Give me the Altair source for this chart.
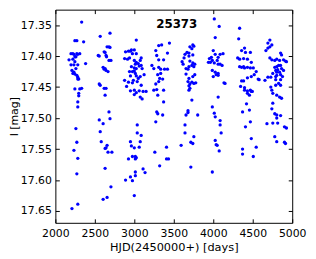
import altair as alt
import pandas as pd

# (HJD-2450000, I mag), grouped by observing season
season1 = [(2333, 17.345), (2247, 17.375), (2272, 17.375), (2358, 17.377), (2383, 17.412),
           (2173, 17.406), (2198, 17.396), (2222, 17.396), (2235, 17.397), (2272, 17.396),
           (2284, 17.397), (2309, 17.396), (2247, 17.401), (2260, 17.401), (2247, 17.409),
           (2198, 17.414), (2235, 17.414), (2284, 17.414), (2210, 17.423), (2222, 17.428),
           (2247, 17.429), (2272, 17.431), (2284, 17.434), (2284, 17.437), (2235, 17.426),
           (2296, 17.437), (2333, 17.452), (2309, 17.453), (2247, 17.453), (2296, 17.460),
           (2296, 17.464), (2284, 17.474), (2284, 17.482), (2260, 17.517), (2272, 17.539),
           (2235, 17.552), (2284, 17.565), (2272, 17.590), (2284, 17.639), (2210, 17.646),
           (2260, 17.420), (2222, 17.405)]
season2 = [(2568, 17.368), (2692, 17.363), (2655, 17.385), (2679, 17.385), (2692, 17.386),
           (2618, 17.393), (2630, 17.394), (2543, 17.399), (2556, 17.400), (2642, 17.399),
           (2648, 17.401), (2679, 17.407), (2704, 17.407), (2605, 17.418), (2630, 17.420),
           (2642, 17.423), (2618, 17.421), (2667, 17.425), (2556, 17.445), (2568, 17.447),
           (2618, 17.452), (2642, 17.452), (2630, 17.463), (2679, 17.490), (2556, 17.503),
           (2692, 17.501), (2605, 17.509), (2568, 17.522), (2581, 17.538), (2655, 17.544),
           (2642, 17.548), (2630, 17.549), (2667, 17.555), (2716, 17.555), (2630, 17.581),
           (2704, 17.611), (2655, 17.628), (2605, 17.631)]
season3 = [(3025, 17.374), (2963, 17.390), (3000, 17.390), (2951, 17.392), (2926, 17.392),
           (2889, 17.393), (2877, 17.404), (2914, 17.405), (2939, 17.403), (2976, 17.396),
           (3025, 17.396), (3000, 17.407), (3025, 17.410), (3050, 17.412), (3013, 17.413),
           (3075, 17.407), (3087, 17.403), (2963, 17.417), (3000, 17.419), (3025, 17.420),
           (3062, 17.416), (3087, 17.415), (2939, 17.425), (2976, 17.425), (3000, 17.424),
           (3099, 17.420), (2951, 17.432), (3025, 17.432), (3075, 17.433), (3124, 17.430),
           (2877, 17.439), (2988, 17.439), (2926, 17.442), (2976, 17.443), (3037, 17.441),
           (3087, 17.447), (2902, 17.449), (2951, 17.456), (3000, 17.455), (3062, 17.456),
           (3111, 17.457), (3149, 17.457), (3025, 17.459), (3000, 17.462), (3075, 17.466),
           (3099, 17.469), (3037, 17.511), (3037, 17.524), (3087, 17.528), (2951, 17.538),
           (2963, 17.545), (3000, 17.548), (3075, 17.538), (3062, 17.547), (2976, 17.562),
           (3013, 17.562), (3025, 17.564), (3013, 17.566), (2926, 17.566), (3111, 17.582),
           (3136, 17.588), (3013, 17.587), (3013, 17.593), (2951, 17.595), (2976, 17.601),
           (2889, 17.600), (3000, 17.625), (3013, 17.428), (3050, 17.436)]
season4 = [(3445, 17.379), (3346, 17.382), (3309, 17.383), (3272, 17.391), (3420, 17.395),
           (3284, 17.399), (3309, 17.406), (3371, 17.406), (3223, 17.415), (3247, 17.420),
           (3309, 17.418), (3334, 17.421), (3383, 17.421), (3420, 17.421), (3321, 17.436),
           (3359, 17.437), (3272, 17.445), (3309, 17.441), (3247, 17.455), (3284, 17.454),
           (3371, 17.455), (3297, 17.463), (3371, 17.474), (3284, 17.490), (3297, 17.493),
           (3359, 17.495), (3272, 17.506), (3260, 17.555), (3321, 17.577), (3408, 17.566),
           (3433, 17.566), (3408, 17.547), (3334, 17.428), (3296, 17.430)]
season5 = [(3605, 17.409), (3630, 17.403), (3642, 17.397), (3667, 17.394), (3692, 17.400),
           (3704, 17.408), (3741, 17.411), (3766, 17.413), (3618, 17.413), (3704, 17.385),
           (3741, 17.382), (3729, 17.388), (3754, 17.384), (3692, 17.395), (3741, 17.398),
           (3655, 17.420), (3680, 17.421), (3692, 17.417), (3729, 17.415), (3754, 17.417),
           (3655, 17.429), (3692, 17.436), (3741, 17.433), (3766, 17.430), (3680, 17.441),
           (3704, 17.445), (3729, 17.442), (3754, 17.444), (3778, 17.443), (3692, 17.448),
           (3704, 17.452), (3692, 17.455), (3729, 17.471), (3680, 17.488), (3680, 17.491),
           (3655, 17.495), (3803, 17.495), (3642, 17.511), (3593, 17.544), (3642, 17.524),
           (3716, 17.539), (3741, 17.541), (3754, 17.530), (3716, 17.579)]
season6 = [(4013, 17.340), (4075, 17.352), (4025, 17.370), (4000, 17.391), (4025, 17.397),
           (3976, 17.402), (3951, 17.404), (3988, 17.407), (4062, 17.402), (4087, 17.397),
           (4124, 17.396), (3939, 17.410), (4050, 17.407), (3964, 17.410), (4013, 17.411),
           (4062, 17.413), (4087, 17.413), (4112, 17.415), (3988, 17.423), (4025, 17.426),
           (4062, 17.428), (4037, 17.430), (4000, 17.433), (4062, 17.431), (4136, 17.443),
           (4149, 17.444), (4062, 17.466), (3988, 17.482), (4013, 17.492), (4025, 17.498),
           (4087, 17.504), (4025, 17.536), (4050, 17.544), (4037, 17.543), (4075, 17.553),
           (4100, 17.524), (4087, 17.511), (3988, 17.587)]
season7 = [(4334, 17.355), (4322, 17.372), (4396, 17.387), (4359, 17.391), (4408, 17.394),
           (4470, 17.394), (4309, 17.403), (4334, 17.405), (4384, 17.404), (4433, 17.405),
           (4334, 17.417), (4359, 17.418), (4384, 17.417), (4396, 17.419), (4433, 17.418),
           (4470, 17.419), (4482, 17.410), (4507, 17.419), (4544, 17.425), (4569, 17.437),
           (4581, 17.438), (4359, 17.440), (4384, 17.440), (4433, 17.435), (4482, 17.433),
           (4519, 17.430), (4396, 17.455), (4433, 17.456), (4470, 17.455), (4495, 17.457),
           (4433, 17.460), (4458, 17.463), (4482, 17.457), (4346, 17.449), (4396, 17.451),
           (4421, 17.477), (4458, 17.487), (4371, 17.490), (4470, 17.506), (4408, 17.514),
           (4482, 17.533), (4544, 17.547), (4371, 17.550), (4371, 17.558), (4507, 17.562)]
season8 = [(4717, 17.374), (4692, 17.379), (4667, 17.391), (4692, 17.387), (4717, 17.385),
           (4742, 17.382), (4853, 17.395), (4865, 17.398), (4890, 17.406), (4915, 17.408),
           (4927, 17.409), (4840, 17.407), (4717, 17.403), (4742, 17.406), (4779, 17.407),
           (4804, 17.405), (4655, 17.439), (4692, 17.434), (4729, 17.434), (4754, 17.428),
           (4791, 17.423), (4816, 17.422), (4853, 17.415), (4828, 17.415), (4804, 17.417),
           (4840, 17.426), (4865, 17.420), (4890, 17.423), (4804, 17.431), (4791, 17.438),
           (4853, 17.438), (4877, 17.433), (4828, 17.444), (4853, 17.447), (4742, 17.455),
           (4754, 17.460), (4804, 17.463), (4840, 17.466), (4865, 17.468), (4729, 17.450),
           (4791, 17.447), (4779, 17.418), (4804, 17.426), (4853, 17.430), (4791, 17.433),
           (4754, 17.476), (4742, 17.485), (4779, 17.493), (4804, 17.495), (4804, 17.500),
           (4853, 17.496), (4680, 17.509), (4754, 17.508), (4816, 17.508), (4902, 17.514),
           (4927, 17.516), (4779, 17.530), (4804, 17.538), (4902, 17.539), (4915, 17.541)]

x_ticks = [2000, 2500, 3000, 3500, 4000, 4500, 5000]
y_ticks = [17.35, 17.40, 17.45, 17.50, 17.55, 17.60, 17.65]
x_domain = [2000, 5000]
y_domain = [17.325, 17.669]
star_id = "25373"

rows = season1 + season2 + season3 + season4 + season5 + season6 + season7 + season8
df = pd.DataFrame(rows, columns=["hjd", "imag"])

FONT = "DejaVu Sans"
W, H = 240, 216

xs = alt.Scale(domain=x_domain, nice=False, zero=False)
ys = alt.Scale(domain=y_domain, reverse=True, nice=False, zero=False)

base = alt.Chart(df)

points = base.mark_circle(color="#0000ff", size=11, opacity=1).encode(
    x=alt.X("hjd:Q", scale=xs, axis=alt.Axis(
        values=x_ticks, format="d", title="HJD(2450000+) [days]", grid=False,
        ticks=False, domain=False, labelPadding=5, labelFontSize=11,
        labelFont=FONT, labelColor="black", labelFlush=False,
        titleFont=FONT, titleFontSize=11.5, titleFontWeight="normal",
        titleColor="black", titlePadding=3)),
    y=alt.Y("imag:Q", scale=ys, axis=alt.Axis(
        values=y_ticks, format=".2f", title="I [mag]", grid=False,
        ticks=False, domain=False, labelPadding=4, labelFontSize=11,
        labelFont=FONT, labelColor="black", labelFlush=False,
        titleFont=FONT, titleFontSize=11, titleFontWeight="normal",
        titleColor="black", titlePadding=1)),
)


def tick_axis(orient, offset, values):
    return alt.Axis(orient=orient, offset=offset, values=values, labels=False,
                    title=None, grid=False, domain=False, ticks=True,
                    tickSize=4, tickColor="black", tickWidth=1)


ticks_a = base.mark_circle(opacity=0).encode(
    x=alt.X("hjd:Q", scale=xs, axis=tick_axis("top", -H, x_ticks)),
    y=alt.Y("imag:Q", scale=ys, axis=tick_axis("right", -W, y_ticks)),
)
ticks_b = base.mark_circle(opacity=0).encode(
    x=alt.X("hjd:Q", scale=xs, axis=tick_axis("bottom", -H, x_ticks)),
    y=alt.Y("imag:Q", scale=ys, axis=tick_axis("left", -W, y_ticks)),
)

label = alt.Chart(pd.DataFrame({"t": [star_id]})).mark_text(
    font=FONT, fontSize=12, fontWeight="bold", color="black", baseline="middle"
).encode(text="t:N", x=alt.value(123), y=alt.value(15))

chart = alt.layer(points, ticks_a, ticks_b, label).resolve_axis(
    x="independent", y="independent"
).properties(
    width=W, height=H,
    autosize=alt.AutoSizeParams(type="none"),
    padding={"left": 48, "top": 0, "right": 16, "bottom": 35},
).configure_view(stroke="black", strokeWidth=1)

chart.save("out.html", embed_options={"renderer": "svg", "actions": False})
